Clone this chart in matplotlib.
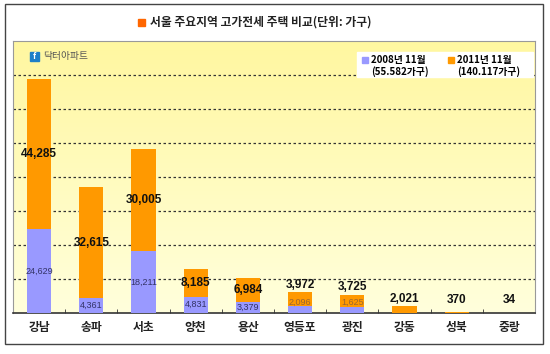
#--------------------------------------
# 서울 주요지역 고가전세 주택 비교 (누적 막대)
#--------------------------------------

import numpy as np
import matplotlib
matplotlib.use("Agg")
import matplotlib.pyplot as plt
from matplotlib.patches import Rectangle
from matplotlib.colors import LinearSegmentedColormap

plt.rcParams['font.family'] = ['Noto Sans CJK KR', 'DejaVu Sans']

# 데이터
regions = ["강남", "송파", "서초", "양천", "용산", "영등포", "광진", "강동", "성북", "중랑"]
units_2008 = [24629, 4361, 18211, 4831, 3379, 2096, 1625, 0, 0, 0]
units_2011 = [44285, 32615, 30005, 8185, 6984, 3972, 3725, 2021, 370, 34]
legend_2008 = ["2008년 11월", "(55.582가구)"]
legend_2011 = ["2011년 11월", "(140.117가구)"]
title = "서울 주요지역 고가전세 주택 비교(단위: 가구)"

W, H = 550, 354
PURPLE = "#9999FF"
ORANGE = "#FF9900"


def fx(px):
    return px / W


def fy(py):
    return 1 - py / H


fig = plt.figure(figsize=(5.5, 3.54), dpi=100)

# 바깥 테두리
fig.patches.append(Rectangle((fx(5), fy(344)), fx(538), 340 / H, transform=fig.transFigure,
                             fill=False, edgecolor="#444444", lw=1, zorder=5))

ax = fig.add_axes([fx(13), fy(313), fx(522), 272 / H])

# 배경 그라데이션
grad = np.linspace(0, 1, 256).reshape(-1, 1)
cmap = LinearSegmentedColormap.from_list("bg", ["#FFFFDC", "#FFF7A0"])
ax.imshow(grad, extent=[-0.5, 9.5, 0, 80000], origin="lower", aspect="auto", cmap=cmap, zorder=0)

x = np.arange(len(regions))
v08 = np.array(units_2008)
v11 = np.array(units_2011)
ax.bar(x, v08, width=0.46, color=PURPLE, zorder=3)
ax.bar(x, v11, bottom=v08, width=0.46, color=ORANGE, zorder=3)

ax.set_xlim(-0.5, 9.5)
ax.set_ylim(0, 80000)
ax.set_yticks(range(10000, 80000, 10000))
ax.yaxis.grid(True, linestyle=(0, (2, 2)), color="#333333", lw=0.9)
ax.set_axisbelow(True)
ax.tick_params(axis="y", length=0, labelleft=False)

ax.set_xticks(x)
ax.set_xticklabels(regions, fontsize=8.5, fontweight="bold", color="#222222")
ax.tick_params(axis="x", which="major", length=0, pad=6)
ax.set_xticks(x[:-1] + 0.5, minor=True)
ax.tick_params(axis="x", which="minor", direction="in", length=3, color="#333333")

for s in ["top", "left", "right"]:
    ax.spines[s].set_color("#999999")
ax.spines["bottom"].set_color("#333333")
ax.spines["bottom"].set_linewidth(1.2)

# 값 라벨
for i in range(len(regions)):
    if v08[i] > 0:
        if v08[i] >= 2500:
            ax.text(x[i], v08[i] / 2, f"{v08[i]:,}", ha="center", va="center", fontsize=6.5,
                    family="Liberation Sans", color="#333366", zorder=4)
        else:
            ax.text(x[i], 3200, f"{v08[i]:,}", ha="center", va="center", fontsize=6.5,
                    family="Liberation Sans", color="#996633", zorder=4)
    if v11[i] >= 5000:
        y = v08[i] + v11[i] / 2
    else:
        y = max(v08[i] + v11[i] + 2200, 3800)
    ax.text(x[i], y, f"{v11[i]:,}", ha="center", va="center", fontsize=8.5,
            family="Liberation Sans", fontweight="bold", color="#111111", zorder=4)

# 제목
fig.patches.append(Rectangle((fx(138), fy(26)), fx(7), 7 / H, transform=fig.transFigure,
                             color="#FF6600", zorder=5))
fig.text(fx(150), fy(22), title, ha="left", va="center", fontsize=8.5, fontweight="bold",
         color="#222222")

# 로고
fig.patches.append(Rectangle((fx(30), fy(61)), fx(9), 9 / H, transform=fig.transFigure,
                             color="#1E7FC8", zorder=5))
fig.text(fx(34.5), fy(56.5), "f", ha="center", va="center", fontsize=6, fontweight="bold",
         color="white", zorder=6)
fig.text(fx(43), fy(56.5), "닥터아파트", ha="left", va="center", fontsize=7, color="#555555", zorder=6)

# 범례
fig.patches.append(Rectangle((fx(357), fy(77)), fx(176), 25 / H, transform=fig.transFigure,
                             color="white", zorder=5))
fig.patches.append(Rectangle((fx(362), fy(63)), fx(6), 6 / H, transform=fig.transFigure,
                             color=PURPLE, zorder=6))
fig.patches.append(Rectangle((fx(448), fy(63)), fx(6), 6 / H, transform=fig.transFigure,
                             color=ORANGE, zorder=6))
fig.text(fx(371), fy(60), legend_2008[0], ha="left", va="center", fontsize=7, fontweight="bold", zorder=7)
fig.text(fx(371), fy(71.5), legend_2008[1], ha="left", va="center", fontsize=7, fontweight="bold", zorder=7)
fig.text(fx(457), fy(60), legend_2011[0], ha="left", va="center", fontsize=7, fontweight="bold", zorder=7)
fig.text(fx(457), fy(71.5), legend_2011[1], ha="left", va="center", fontsize=7, fontweight="bold", zorder=7)

fig.savefig("out.png", dpi=100)
